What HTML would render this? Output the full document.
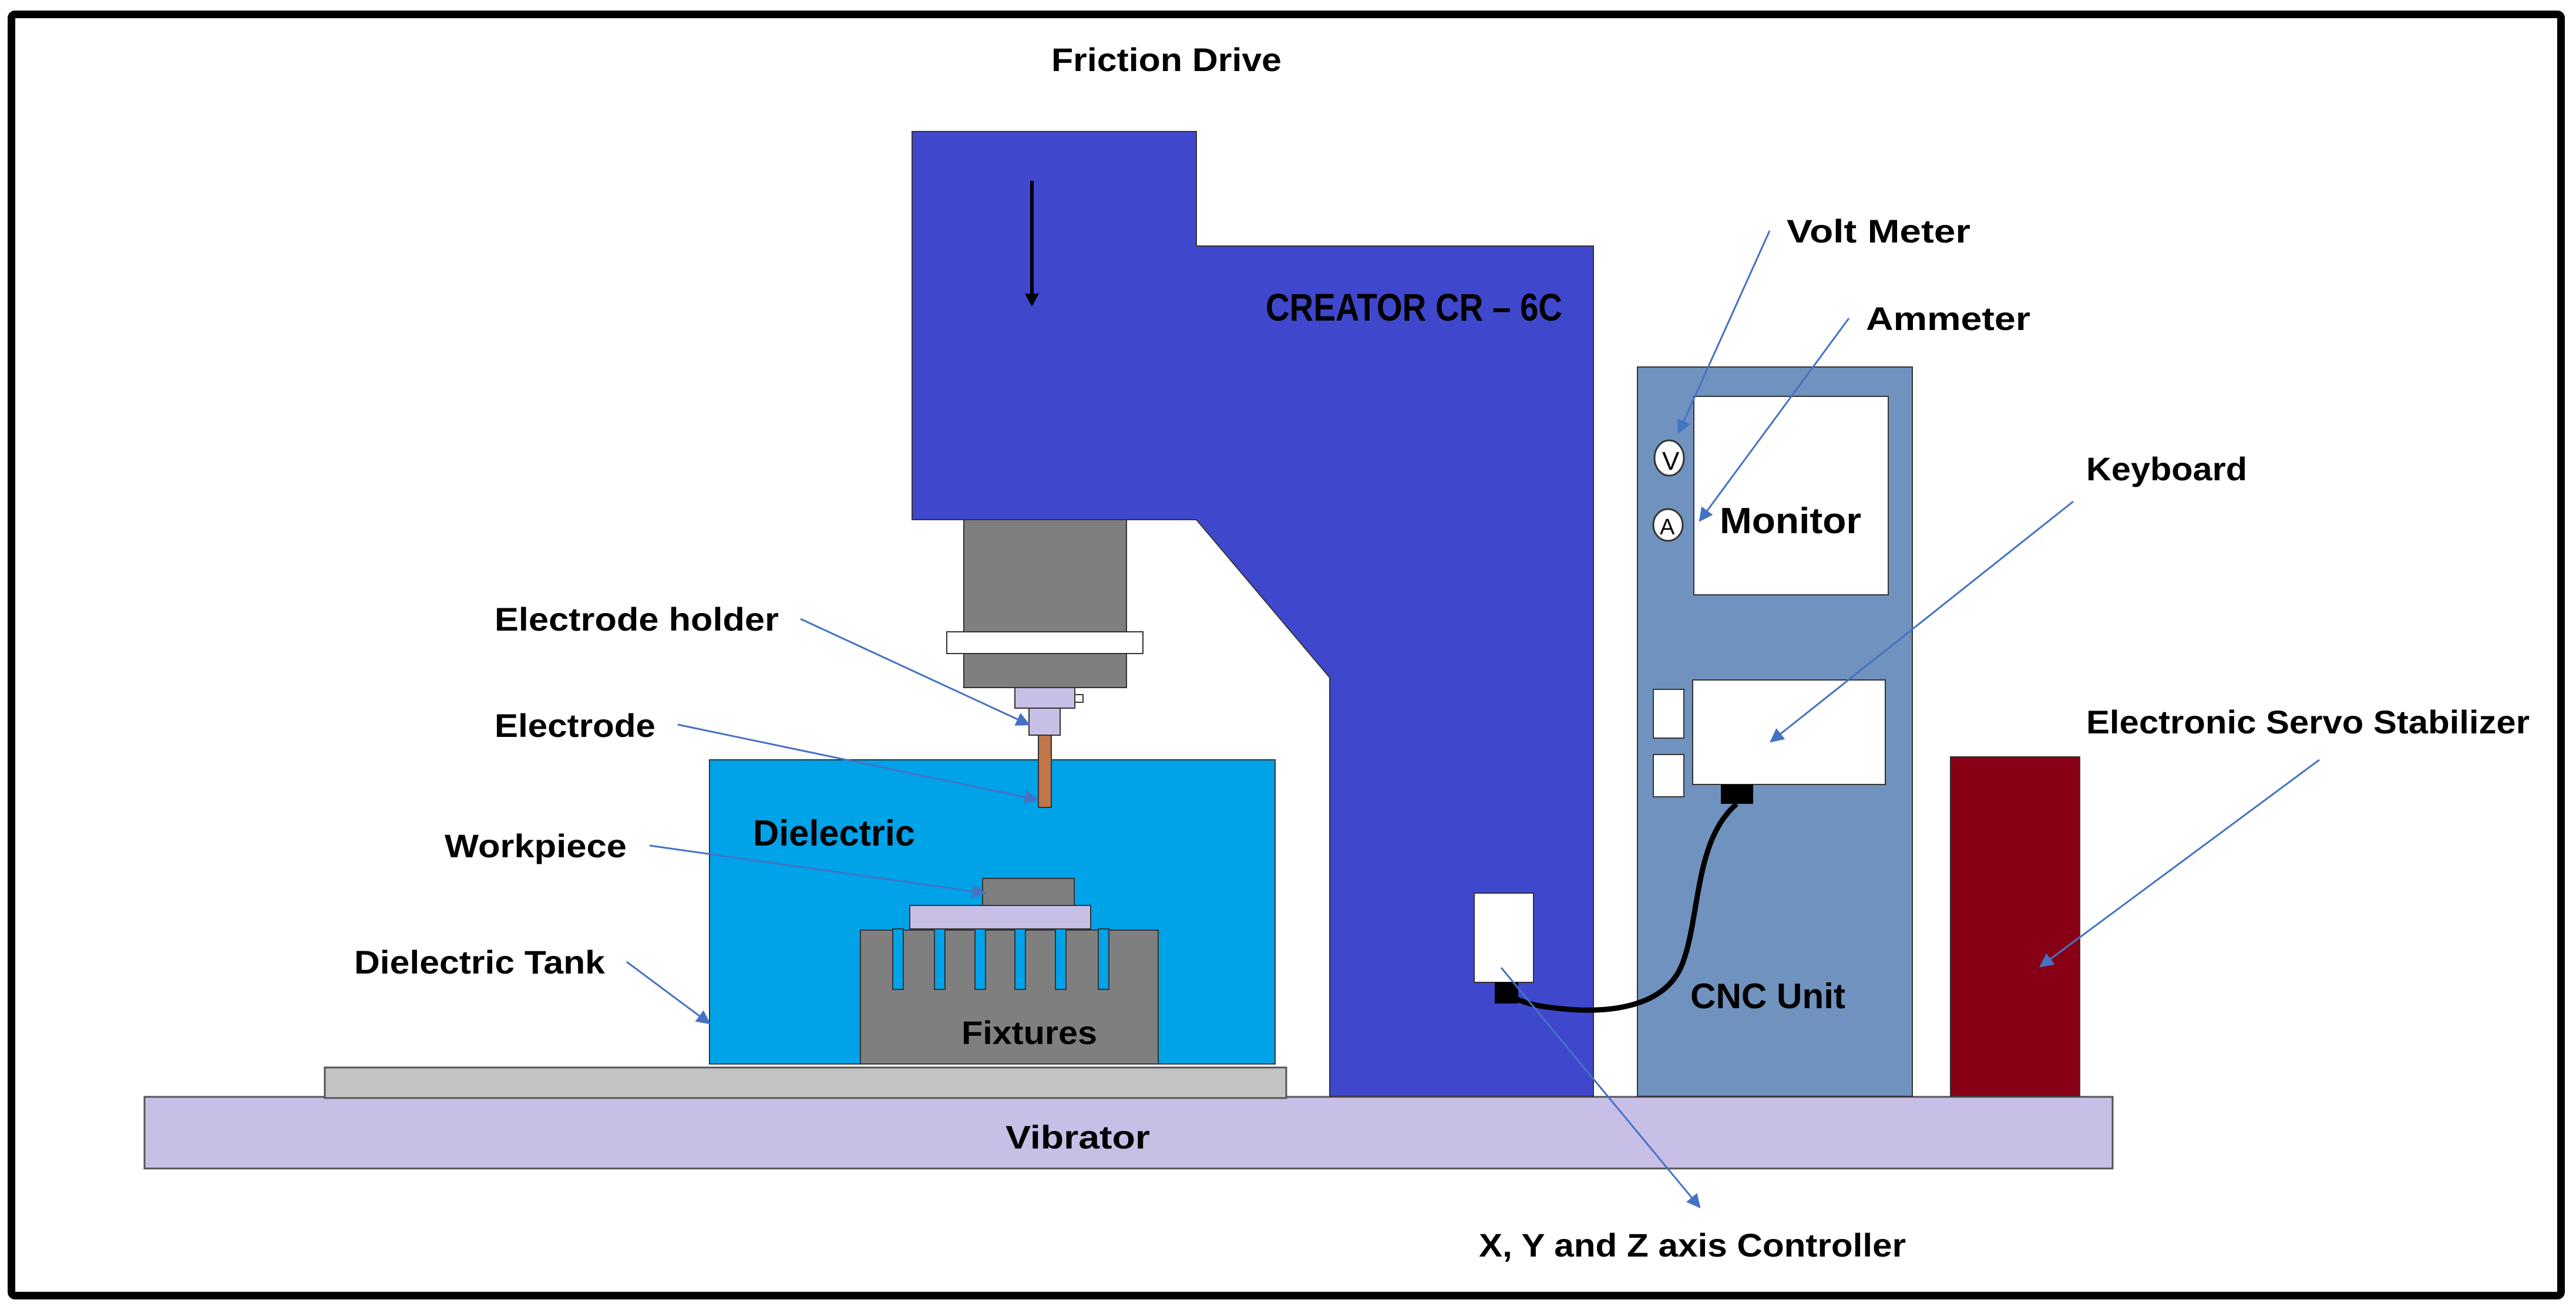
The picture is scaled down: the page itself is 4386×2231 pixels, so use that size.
<!DOCTYPE html>
<html><head><meta charset="utf-8"><style>html,body{margin:0;padding:0;background:#fff}svg{display:block}</style></head>
<body>
<svg width="4386" height="2231" viewBox="0 0 4386 2231" xmlns="http://www.w3.org/2000/svg" font-family="'Liberation Sans', sans-serif" font-weight="bold" fill="#000">
<defs>
<marker id="ah" markerWidth="10" markerHeight="8" refX="9" refY="4" orient="auto" markerUnits="userSpaceOnUse" viewBox="0 0 10 8">
</marker>
<marker id="a" viewBox="0 0 10 10" refX="9" refY="5" markerWidth="8" markerHeight="8" orient="auto"><path d="M0 0L10 5L0 10z" fill="#4472C4"/></marker>
</defs>
<rect x="19.5" y="24.5" width="4341" height="2182" rx="6" fill="#fff" stroke="#000" stroke-width="13"/>

<!-- vibrator and base -->
<rect x="246" y="1868" width="3351" height="122" fill="#C8BFE7" stroke="#555" stroke-width="3"/>
<rect x="553" y="1818" width="1637" height="52" fill="#C3C3C3" stroke="#555" stroke-width="3"/>

<!-- tank -->
<rect x="1208" y="1294" width="963" height="518" fill="#00A2E8" stroke="#333" stroke-width="2"/>
<rect x="1465" y="1584" width="507" height="228" fill="#7F7F7F" stroke="#333" stroke-width="2"/>
<g fill="#00A2E8" stroke="#333" stroke-width="2">
<rect x="1520" y="1582" width="18" height="103"/>
<rect x="1591" y="1582" width="18" height="103"/>
<rect x="1660" y="1582" width="18" height="103"/>
<rect x="1728" y="1582" width="18" height="103"/>
<rect x="1797" y="1582" width="18" height="103"/>
<rect x="1870" y="1582" width="18" height="103"/>
</g>
<rect x="1549" y="1542" width="308" height="40" fill="#C8BFE7" stroke="#333" stroke-width="2"/>
<rect x="1673" y="1496" width="156" height="46" fill="#7F7F7F" stroke="#333" stroke-width="2"/>

<!-- machine body -->
<path d="M1553 224 H2037 V419 H2713 V1867 H2264 V1154 L2037 885 H1553 Z" fill="#3F48CC" stroke="#333" stroke-width="2"/>
<line x1="1757" y1="308" x2="1757" y2="505" stroke="#000" stroke-width="6"/>
<path d="M1745 500 L1769 500 L1757 522 Z" fill="#000"/>
<rect x="1641" y="885" width="277" height="286" fill="#7F7F7F" stroke="#333" stroke-width="2"/>
<rect x="1612" y="1076" width="334" height="37" fill="#fff" stroke="#333" stroke-width="2"/>
<rect x="1830" y="1183" width="14" height="13" fill="#fff" stroke="#333" stroke-width="2"/>
<rect x="1728" y="1171" width="102" height="35" fill="#C8BFE7" stroke="#333" stroke-width="2"/>
<rect x="1752" y="1206" width="53" height="46" fill="#C8BFE7" stroke="#333" stroke-width="2"/>
<rect x="1768" y="1252" width="22" height="123" fill="#C0764A" stroke="#333" stroke-width="2"/>

<!-- column white box -->
<rect x="2510" y="1521" width="101" height="152" fill="#fff" stroke="#333" stroke-width="2"/>
<rect x="2545" y="1673" width="40" height="36" fill="#000"/>

<!-- CNC unit -->
<rect x="2788" y="625" width="468" height="1242" fill="#7092BE" stroke="#333" stroke-width="2"/>
<rect x="2884" y="675" width="331" height="338" fill="#fff" stroke="#333" stroke-width="2"/>
<rect x="2882" y="1158" width="328" height="178" fill="#fff" stroke="#333" stroke-width="2"/>
<rect x="2815" y="1174" width="52" height="83" fill="#fff" stroke="#333" stroke-width="2"/>
<rect x="2815" y="1285" width="52" height="72" fill="#fff" stroke="#333" stroke-width="2"/>
<rect x="2930" y="1336" width="55" height="33" fill="#000"/>
<ellipse cx="2842" cy="780" rx="25" ry="30" fill="#fff" stroke="#333" stroke-width="3"/>
<text x="2830" y="800" font-size="44" font-weight="normal">V</text>
<ellipse cx="2840" cy="894" rx="25" ry="27" fill="#fff" stroke="#333" stroke-width="3"/>
<text x="2826" y="910" font-size="38" font-weight="normal">A</text>
<path d="M2957 1369 C2885 1430 2895 1560 2865 1640 C2835 1720 2730 1725 2660 1718 C2620 1714 2600 1710 2580 1700" fill="none" stroke="#000" stroke-width="9"/>

<!-- stabilizer -->
<rect x="3321" y="1289" width="220" height="578" fill="#880015" stroke="#333" stroke-width="2"/>

<!-- leaders -->
<g stroke="#4472C4" stroke-width="3" fill="none" marker-end="url(#a)">
<line x1="1363" y1="1054" x2="1752" y2="1234"/>
<line x1="1154" y1="1234" x2="1766" y2="1362"/>
<line x1="1106" y1="1440" x2="1677" y2="1521"/>
<line x1="1067" y1="1638" x2="1208" y2="1743"/>
<line x1="3013" y1="393" x2="2858" y2="737"/>
<line x1="3148" y1="542" x2="2894" y2="887"/>
<line x1="3530" y1="854" x2="3015" y2="1263"/>
<line x1="3949" y1="1294" x2="3474" y2="1646"/>
<line x1="2556" y1="1648" x2="2894" y2="2056"/>
</g>

<!-- labels -->
<g font-size="56" lengthAdjust="spacingAndGlyphs">
<text x="1790" y="121" textLength="392" lengthAdjust="spacingAndGlyphs">Friction Drive</text>
<text x="2155" y="546" font-size="66" textLength="505" lengthAdjust="spacingAndGlyphs">CREATOR CR – 6C</text>
<text x="842" y="1074" textLength="484" lengthAdjust="spacingAndGlyphs">Electrode holder</text>
<text x="842" y="1255" textLength="274" lengthAdjust="spacingAndGlyphs">Electrode</text>
<text x="1282" y="1440" font-size="62" textLength="276" lengthAdjust="spacingAndGlyphs">Dielectric</text>
<text x="757" y="1460" textLength="310" lengthAdjust="spacingAndGlyphs">Workpiece</text>
<text x="603" y="1658" textLength="427" lengthAdjust="spacingAndGlyphs">Dielectric Tank</text>
<text x="1637" y="1778" textLength="231" lengthAdjust="spacingAndGlyphs">Fixtures</text>
<text x="1712" y="1956" textLength="246" lengthAdjust="spacingAndGlyphs">Vibrator</text>
<text x="3042" y="413" textLength="313" lengthAdjust="spacingAndGlyphs">Volt Meter</text>
<text x="3177" y="562" textLength="280" lengthAdjust="spacingAndGlyphs">Ammeter</text>
<text x="2928" y="908" font-size="62" textLength="241" lengthAdjust="spacingAndGlyphs">Monitor</text>
<text x="3552" y="818" textLength="274" lengthAdjust="spacingAndGlyphs">Keyboard</text>
<text x="3552" y="1249" textLength="755" lengthAdjust="spacingAndGlyphs">Electronic Servo Stabilizer</text>
<text x="2878" y="1717" font-size="60" textLength="264" lengthAdjust="spacingAndGlyphs">CNC Unit</text>
<text x="2518" y="2140" textLength="727" lengthAdjust="spacingAndGlyphs">X, Y and Z axis Controller</text>
</g>
</svg>
</body></html>
